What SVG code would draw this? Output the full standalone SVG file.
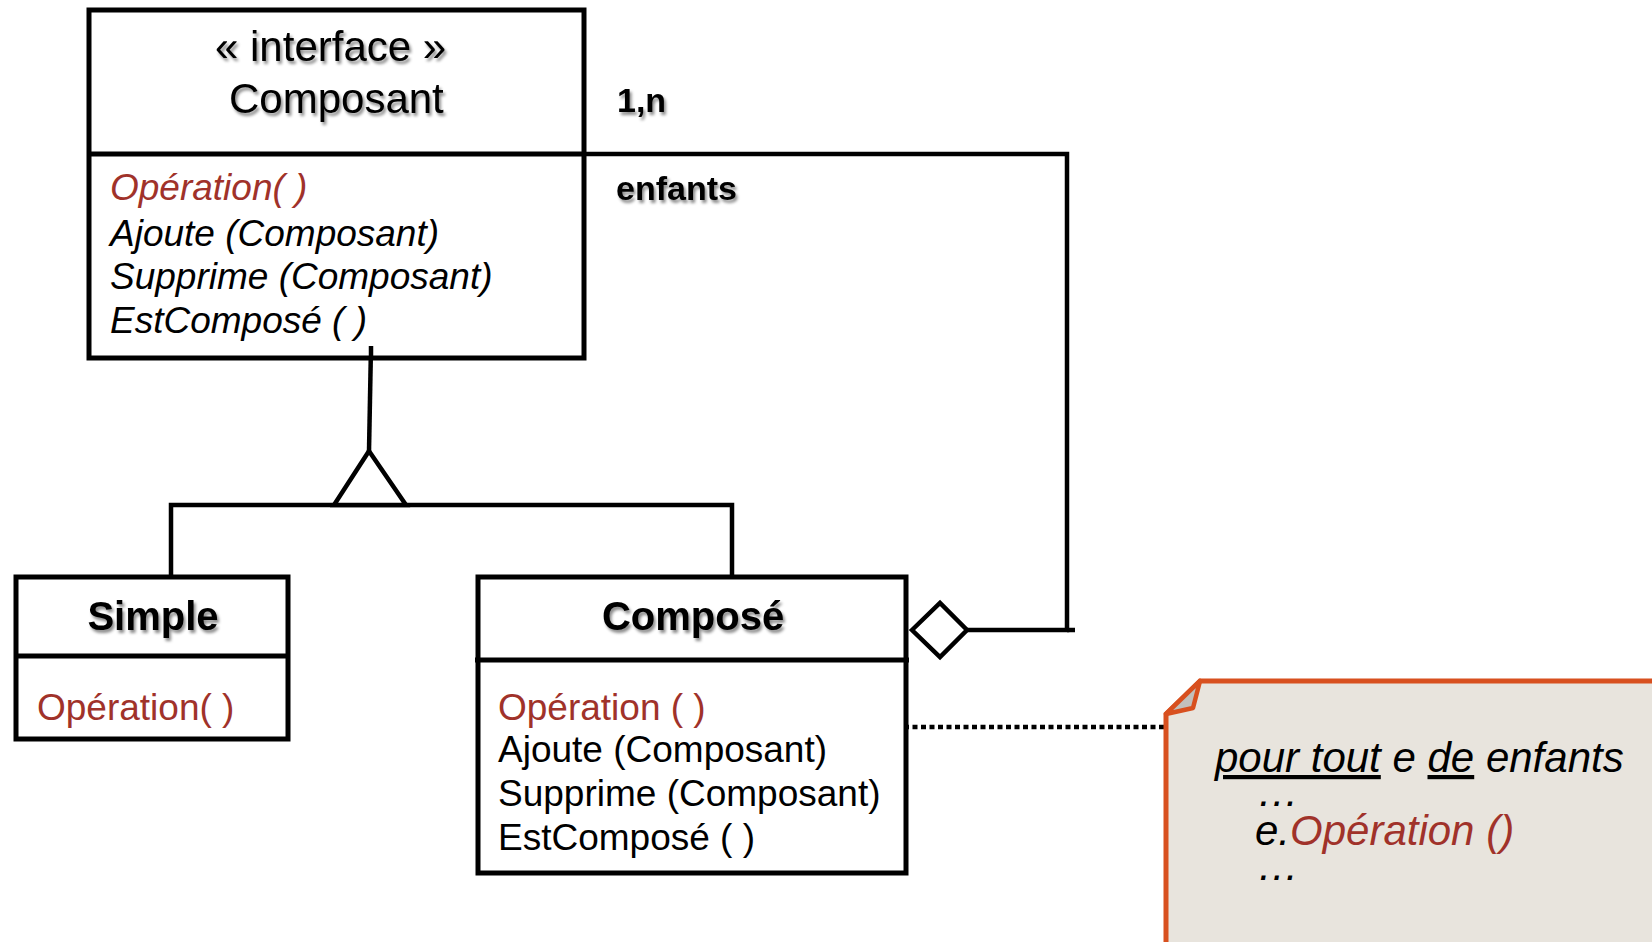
<svg xmlns="http://www.w3.org/2000/svg" width="1652" height="942" viewBox="0 0 1652 942">
<defs>
<filter id="sh" x="-10%" y="-20%" width="130%" height="150%">
<feDropShadow dx="2" dy="3" stdDeviation="1.6" flood-color="#000" flood-opacity="0.45"/>
</filter>
<style>
text{font-family:"Liberation Sans",Arial,sans-serif;fill:#000}
.box{fill:#fff;stroke:#000;stroke-width:5}
.div{stroke:#000;stroke-width:5;fill:none}
.ln{stroke:#000;stroke-width:4.5;fill:none}
.title{font-size:42px}
.cls{font-size:40px;font-weight:bold;text-anchor:middle}
.op{font-size:37px}
.red{fill:#a0322a;font-size:37px}
.it{font-style:italic}
.lbl{font-size:34px;font-weight:bold}
.note{font-size:42px;font-style:italic}
</style>
</defs>
<rect width="1652" height="942" fill="#fff"/>
<g id="connectors">
<polyline class="ln" points="584,154 1067,154 1067,630 967,630"/>
<line class="ln" x1="1067" y1="630" x2="1075" y2="630"/>
<polygon points="912,630 940,603 967,630 940,657" fill="#fff" stroke="#000" stroke-width="4.5"/>
<polyline class="ln" points="371,346 369,451"/>
<polyline class="ln" points="171,576 171,505 732,505 732,576"/>
<polygon points="369,451 334,505 406,505" fill="#fff" stroke="#000" stroke-width="4.5" stroke-linejoin="miter"/>
<line x1="904" y1="727" x2="1164" y2="727" stroke="#000" stroke-width="4.5" stroke-dasharray="5,3.5"/>
<circle cx="904" cy="727" r="4" fill="#000"/>
<text class="lbl" x="617" y="112" filter="url(#sh)">1,n</text>
<text class="lbl" x="616" y="200" filter="url(#sh)">enfants</text>
</g>
<g id="composant">
<rect class="box" x="89" y="10" width="495" height="348"/>
<line class="div" x1="89" y1="154" x2="584" y2="154"/>
<text class="title" x="215" y="61" filter="url(#sh)">« interface »</text>
<text class="title" x="229" y="113" filter="url(#sh)">Composant</text>
<text class="red it" x="110" y="200">Opération( )</text>
<text class="op it" x="110" y="246">Ajoute (Composant)</text>
<text class="op it" x="110" y="289">Supprime (Composant)</text>
<text class="op it" x="110" y="333">EstComposé ( )</text>
<line class="ln" x1="371" y1="346" x2="371" y2="358"/>
</g>
<g id="simple">
<rect class="box" x="16" y="577" width="272" height="162"/>
<line class="div" x1="16" y1="656" x2="288" y2="656"/>
<text class="cls" x="153" y="630" filter="url(#sh)">Simple</text>
<text class="red" x="37" y="720">Opération( )</text>
</g>
<g id="compose">
<rect class="box" x="478" y="577" width="428" height="296"/>
<line class="div" x1="475" y1="660" x2="909" y2="660"/>
<text class="cls" x="693" y="630" filter="url(#sh)">Composé</text>
<text class="red" x="498" y="720">Opération ( )</text>
<text class="op" x="498" y="762">Ajoute (Composant)</text>
<text class="op" x="498" y="806">Supprime (Composant)</text>
<text class="op" x="498" y="850">EstComposé ( )</text>
</g>
<g id="note">
<path d="M1166,714 L1200,681 L1660,681 L1660,950 L1166,950 Z" fill="#e8e4dd" stroke="#d8501f" stroke-width="5"/>
<path d="M1166,714 L1200,681 L1193,708 Z" fill="#c2c0bc" stroke="#d8501f" stroke-width="4.5" stroke-linejoin="round"/>
<text class="note" x="1215" y="772"><tspan text-decoration="underline">pour tout</tspan> e <tspan text-decoration="underline">de</tspan> enfants</text>
<text class="note" x="1257" y="806">…</text>
<text class="note" x="1255" y="845">e.<tspan fill="#a0322a">Opération ()</tspan></text>
<text class="note" x="1257" y="880">…</text>
</g>
</svg>
